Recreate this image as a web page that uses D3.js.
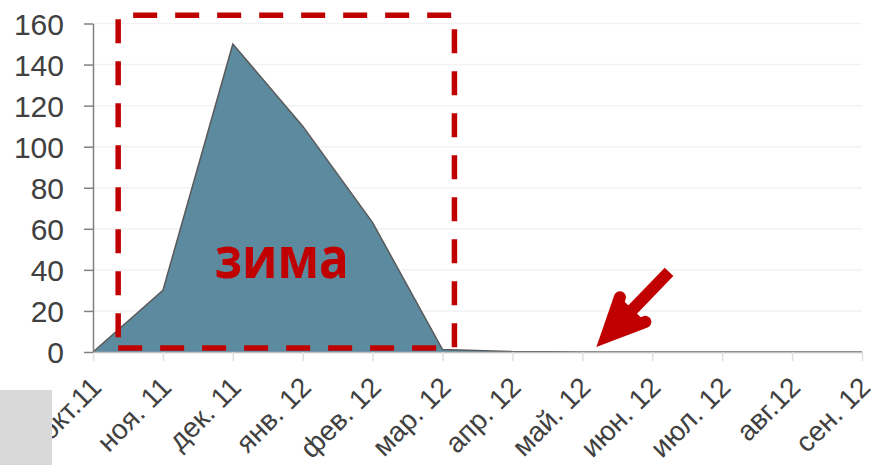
<!DOCTYPE html>
<html>
<head>
<meta charset="utf-8">
<script src="https://cdn.jsdelivr.net/npm/d3@7"></script>
<style>
  html, body { margin: 0; padding: 0; background: #ffffff; }
  svg { display: block; }
</style>
</head>
<body>
<svg id="chart" width="871" height="465"></svg>
<script>
// Monthly values, Oct 2011 – Sep 2012
const months = ["окт.11", "ноя. 11", "дек. 11", "янв. 12", "фев. 12", "мар. 12",
                "апр. 12", "май. 12", "июн. 12", "июл. 12", "авг.12", "сен. 12"];
const values = [0, 30, 150, 110, 63, 1.2, 0.2, 0, 0, 0, 0, 0];
const yTicks = [0, 20, 40, 60, 80, 100, 120, 140, 160];

// Annotations, placed in data units (month index, value)
const winterBox = { from: 0.36, to: 5.17, top: 164, bottom: 2 };
const winterLabel = { text: "зима", at: 2.7, value: 36 };
const arrowNote = { tail: [8.24, 39], tip: [7.2, 2.4] };

const W = 871, H = 465;
const plotLeft = 93, plotRight = 862, plotTop = 23.5, plotBottom = 352;

const svg = d3.select("#chart");
svg.append("rect").attr("width", W).attr("height", H).attr("fill", "#ffffff");

const x = d3.scalePoint().domain(months).range([plotLeft, plotRight]);
const xi = d3.scaleLinear().domain([0, months.length - 1]).range([plotLeft, plotRight]);
const y = d3.scaleLinear().domain([0, 160]).range([plotBottom, plotTop]);

// light horizontal gridlines
svg.append("g").selectAll("line").data(yTicks.filter(d => d > 0)).join("line")
  .attr("x1", plotLeft).attr("x2", plotRight)
  .attr("y1", d => y(d)).attr("y2", d => y(d))
  .attr("stroke", "#f2f2f2").attr("stroke-width", 1.5);

// filled area
const area = d3.area()
  .x((d, i) => x(months[i]))
  .y0(y(0))
  .y1(d => y(d));
svg.append("path").datum(values)
  .attr("d", area)
  .attr("fill", "#5c8a9e");
const line = d3.line().x((d, i) => x(months[i])).y(d => y(d));
svg.append("path").datum(values)
  .attr("d", line)
  .attr("fill", "none")
  .attr("stroke", "#595959")
  .attr("stroke-width", 1.5);

// x axis
const xAxis = svg.append("g")
  .attr("transform", `translate(0,${plotBottom})`)
  .call(d3.axisBottom(x).tickSize(9).tickSizeOuter(0));
xAxis.select(".domain").attr("stroke", "#bfbfbf").attr("stroke-width", 1.5)
  .attr("d", `M${plotLeft},0.5H${plotRight}`);
xAxis.selectAll(".tick line").attr("stroke", "#e0e0e0").attr("stroke-width", 1.5);
xAxis.selectAll(".tick text").remove();

// slanted month labels
svg.append("g").selectAll("text").data(months).join("text")
  .attr("transform", d => `translate(${x(d) + 10},${plotBottom + 37}) rotate(-45)`)
  .attr("text-anchor", "end")
  .attr("font-family", "'Liberation Sans', Arial, sans-serif")
  .attr("font-size", 28)
  .attr("fill", "#404040")
  .text(d => d);

// y axis
const yAxis = svg.append("g")
  .attr("transform", `translate(${plotLeft},0)`)
  .call(d3.axisLeft(y).tickValues(yTicks).tickSize(9).tickSizeOuter(0));
yAxis.select(".domain").attr("stroke", "#808080").attr("stroke-width", 1.5);
yAxis.selectAll(".tick line").attr("stroke", "#808080").attr("stroke-width", 1.5);
yAxis.selectAll(".tick text")
  .attr("font-family", "'Liberation Sans', Arial, sans-serif")
  .attr("font-size", 30)
  .attr("fill", "#404040")
  .attr("x", -29)
  .attr("dy", "0.36em");

// grey block in the lower-left corner
svg.append("rect").attr("x", 0).attr("y", 390).attr("width", 52).attr("height", 75)
  .attr("fill", "#d9d9d9");

// dashed frame marking the winter months
const red = "#c00000";
const bx0 = xi(winterBox.from), bx1 = xi(winterBox.to);
const by0 = y(winterBox.top), by1 = y(winterBox.bottom);
const dash = "24 18";
const frame = svg.append("g").attr("stroke", red).attr("stroke-width", 5.5)
  .attr("stroke-dasharray", dash).attr("fill", "none");
frame.append("line").attr("x1", bx0 + 15).attr("x2", bx1).attr("y1", by0).attr("y2", by0);
frame.append("line").attr("x1", bx1).attr("x2", bx1).attr("y1", by0 + 14).attr("y2", by1);
frame.append("line").attr("x1", bx0).attr("x2", bx1 - 16).attr("y1", by1).attr("y2", by1);
frame.append("line").attr("x1", bx0).attr("x2", bx0).attr("y1", by0 + 4).attr("y2", by1 - 10);

// season label
svg.append("text")
  .attr("x", xi(winterLabel.at)).attr("y", y(winterLabel.value))
  .attr("text-anchor", "middle")
  .attr("font-family", "'Open Sans', sans-serif")
  .attr("font-weight", 700)
  .attr("font-size", 58)
  .attr("textLength", 134)
  .attr("lengthAdjust", "spacingAndGlyphs")
  .attr("fill", red)
  .text(winterLabel.text);

// arrow pointing at the empty summer months
const tail = [xi(arrowNote.tail[0]), y(arrowNote.tail[1])];
const tip = [xi(arrowNote.tip[0]), y(arrowNote.tip[1])];
const ang = Math.atan2(tail[1] - tip[1], tail[0] - tip[0]);
const spread = 25 * Math.PI / 180, armLen = 42, sw = 12;
const inset = (sw / 2) / Math.sin(spread);
const ptip = [tip[0] + inset * Math.cos(ang), tip[1] + inset * Math.sin(ang)];
const arm = s => [ptip[0] + armLen * Math.cos(ang + s), ptip[1] + armLen * Math.sin(ang + s)];
const a1 = arm(-spread), a2 = arm(spread);
const shaftEnd = [tip[0] + 30 * Math.cos(ang), tip[1] + 30 * Math.sin(ang)];
svg.append("line")
  .attr("x1", tail[0]).attr("y1", tail[1]).attr("x2", shaftEnd[0]).attr("y2", shaftEnd[1])
  .attr("stroke", red).attr("stroke-width", 12);
svg.append("path")
  .attr("d", `M${a1[0]},${a1[1]}L${ptip[0]},${ptip[1]}L${a2[0]},${a2[1]}Z`)
  .attr("fill", red);
svg.append("path")
  .attr("d", `M${a1[0]},${a1[1]}L${ptip[0]},${ptip[1]}L${a2[0]},${a2[1]}`)
  .attr("fill", "none").attr("stroke", red).attr("stroke-width", sw)
  .attr("stroke-linecap", "round").attr("stroke-linejoin", "miter");
</script>
</body>
</html>
